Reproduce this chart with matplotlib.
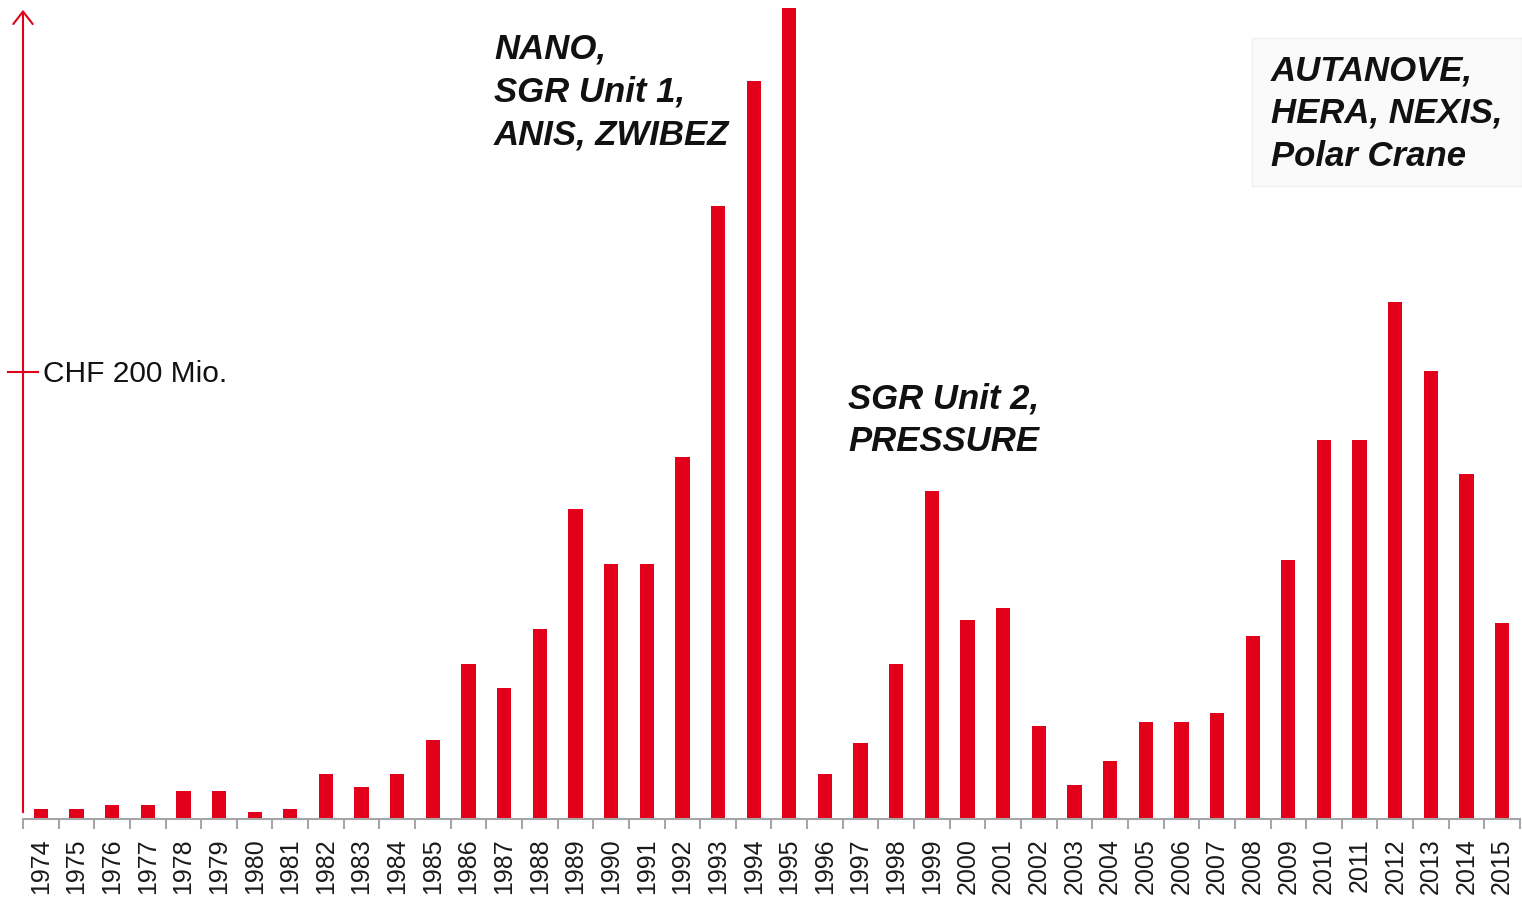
import matplotlib.pyplot as plt
from matplotlib.patches import Rectangle

# Jahre und Beträge (Mio. CHF), aus dem Bild geschätzt
years = list(range(1974, 2016))
values = [4.5, 4.5, 6.3, 6.3, 12.6, 12.6, 3.1, 4.5, 20.2, 14.3,
          20.2, 35.4, 69.5, 58.7, 85.2, 138.6, 114.3, 114.3, 161.9, 274.4,
          330.0, 363.0, 20.2, 34.1, 69.5, 146.6, 89.2, 94.2, 41.7, 15.2,
          26.0, 43.5, 43.5, 47.5, 82.0, 115.7, 169.5, 169.5, 231.4, 200.4,
          154.3, 87.9]
year_labels = [str(y) for y in years]

red = '#E2001A'
grey = '#A6A6A6'

plt.rcParams['font.family'] = ['Liberation Sans', 'DejaVu Sans']

fig = plt.figure(figsize=(15.22, 9), dpi=100)
ax = fig.add_axes([23 / 1522, 1 - 819 / 900, 1497 / 1522, 819 / 900])

x = list(range(len(years)))
ax.bar(x, values, width=0.4, color=red, zorder=2)

ax.set_xlim(-0.5, len(years) - 0.5)
ax.set_ylim(0, 366.4)

for s in ['top', 'right', 'left']:
    ax.spines[s].set_visible(False)
ax.spines['bottom'].set_color(grey)
ax.spines['bottom'].set_linewidth(1.5)

# x-Achse: Beschriftungen in der Mitte, Striche zwischen den Jahren
ax.set_xticks(x)
ax.set_xticklabels(year_labels, rotation=90, fontsize=18, color='#1a1a1a')
ax.tick_params(axis='x', which='major', length=0, pad=14)
ax.set_xticks([i - 0.5 for i in range(len(years) + 1)], minor=True)
ax.tick_params(axis='x', which='minor', length=7, width=1.5, color=grey)
ax.set_yticks([])

# y-Achse als roter Pfeil
ax.annotate('', xy=(-0.5, 362), xytext=(-0.5, 3), xycoords='data',
            arrowprops=dict(arrowstyle='->,head_length=0.9,head_width=0.7',
                            color=red, lw=1.5, shrinkA=0, shrinkB=0),
            annotation_clip=False)
ax.plot([-0.92, -0.08], [200, 200], color=red, lw=1.5, clip_on=False)
ax.text(0.06, 199, 'CHF 200 Mio.', fontsize=21.5, va='center', ha='left',
        color='#111111')

# Beschriftungen der Projekte
lab = dict(fontsize=25, fontweight='bold', fontstyle='italic', color='#111111',
           va='top', ha='left', linespacing=1.38)
fig.text(494 / 1522, 1 - 33 / 900, 'NANO,\nSGR Unit 1,\nANIS, ZWIBEZ', **lab)
fig.text(848 / 1522, 1 - 382 / 900, 'SGR Unit 2,\nPRESSURE', **lab)
fig.patches.append(Rectangle((1252 / 1522, 1 - 186 / 900), 270 / 1522, 148 / 900,
                             transform=fig.transFigure, facecolor='#FAFAFA',
                             edgecolor='#F0F0F0', lw=1, zorder=0))
fig.text(1271 / 1522, 1 - 54 / 900, 'AUTANOVE,\nHERA, NEXIS,\nPolar Crane', **lab)

fig.savefig('out.png', dpi=100)
